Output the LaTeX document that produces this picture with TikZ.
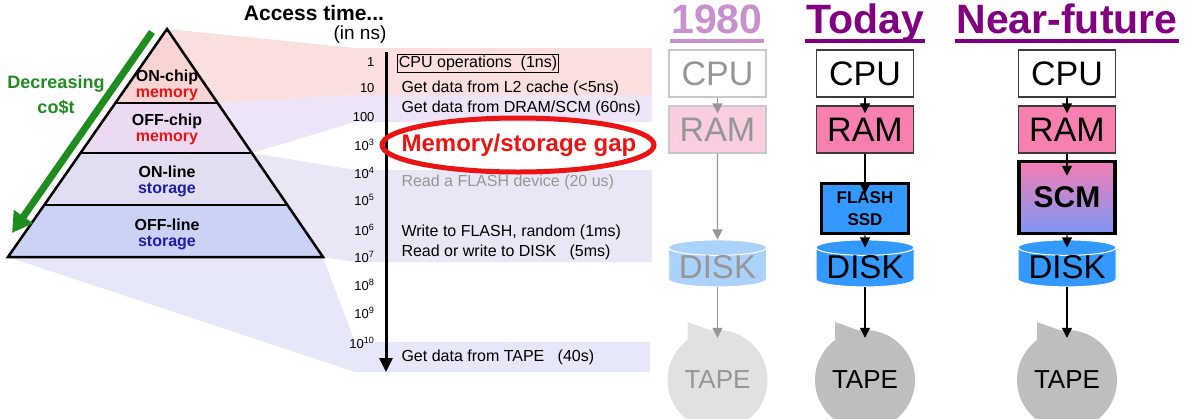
\documentclass[tikz,border=0pt]{standalone}
\usepackage{fontspec}
\setmainfont{Liberation Sans}
\usetikzlibrary{arrows.meta,shapes.geometric,calc}

\definecolor{pinkband}{RGB}{251,222,222}
\definecolor{lavband}{RGB}{238,228,248}
\definecolor{onband}{RGB}{233,230,246}
\definecolor{offband}{RGB}{230,232,250}
\definecolor{secone}{RGB}{248,212,212}
\definecolor{sectwo}{RGB}{236,218,242}
\definecolor{secthree}{RGB}{224,222,240}
\definecolor{secfour}{RGB}{202,210,245}
\definecolor{memred}{RGB}{235,20,20}
\definecolor{storblue}{RGB}{30,30,170}
\definecolor{costgreen}{RGB}{30,140,30}
\definecolor{flashgray}{RGB}{150,150,150}
\definecolor{oldpurple}{RGB}{200,145,205}
\definecolor{newpurple}{RGB}{128,0,128}
\definecolor{oldgray}{RGB}{150,150,150}
\definecolor{lightline}{RGB}{200,200,200}
\definecolor{darkline}{RGB}{60,60,60}
\definecolor{oldram}{RGB}{250,205,225}
\definecolor{rampink}{RGB}{248,128,176}
\definecolor{olddisk}{RGB}{170,210,250}
\definecolor{diskblue}{RGB}{51,153,255}
\definecolor{oldtape}{RGB}{225,225,225}
\definecolor{tapegray}{RGB}{190,190,190}
\definecolor{scmpink}{RGB}{245,125,180}
\definecolor{scmblue}{RGB}{125,150,245}

\newcommand{\fsz}[2]{\fontsize{#1}{#2}\selectfont}

\begin{document}
\begin{tikzpicture}[x=1pt, y=-1pt,
	tick/.style={anchor=east, font=\fsz{13}{13}},
	event/.style={anchor=west, font=\fsz{16}{16}},
	lvl/.style={font=\bfseries\fsz{16}{16}, align=center},
	title/.style={anchor=base, inner sep=1pt, font=\bfseries\fsz{41}{41}},
	unit/.style={rectangle, minimum width=97pt, minimum height=47pt, inner sep=0pt, font=\fsz{34}{34}},
	disk/.style={cylinder, shape border rotate=90, aspect=0.2, minimum width=98pt, minimum height=44pt, inner sep=0pt, draw=white, line width=1pt, font=\fsz{33}{33}},
	tape/.style={circle, minimum size=100pt, inner sep=0pt, font=\fsz{26}{26}},
	link/.style={line width=1.3pt, -{Triangle[width=10pt,length=10pt]}, shorten >=-8pt}]
	\useasboundingbox (0,0) rectangle (1189,418);
	\clip (0,0) rectangle (1189,418);

	% pyramid corners
	\coordinate (apex) at (167,29);
	\coordinate (bl) at (8,257);
	\coordinate (br) at (323,257);
	\coordinate (l1) at ($(apex)!0.3246!(bl)$);
	\coordinate (r1) at ($(apex)!0.3246!(br)$);
	\coordinate (l2) at ($(apex)!0.5439!(bl)$);
	\coordinate (r2) at ($(apex)!0.5439!(br)$);
	\coordinate (l3) at ($(apex)!0.7719!(bl)$);
	\coordinate (r3) at ($(apex)!0.7719!(br)$);

	% bands
	\fill[pinkband] (apex) -- (355,48) -- (652,48) -- (652,95) -- (355,95) -- (r1) -- cycle;
	\fill[lavband] (r1) -- (355,95) -- (652,95) -- (652,122) -- (355,122) -- (r2) -- cycle;
	\fill[onband] (r2) -- (355,170) -- (652,170) -- (652,262) -- (355,262) -- (br) -- cycle;
	\fill[offband] (bl) -- (br) -- (355,342) -- (650,342) -- (650,372) -- (355,372) -- cycle;

	\fill[secone] (apex) -- (r1) -- (l1) -- cycle;
	\fill[sectwo] (l1) -- (r1) -- (r2) -- (l2) -- cycle;
	\fill[secthree] (l2) -- (r2) -- (r3) -- (l3) -- cycle;
	\fill[secfour] (l3) -- (r3) -- (br) -- (bl) -- cycle;
	\draw[line width=2.5pt] (apex) -- (br) -- (bl) -- cycle;
	\draw[line width=2.5pt] (l1) -- (r1) (l2) -- (r2) (l3) -- (r3);

	\node[lvl] (onchip) at (167,85) {ON-chip\\\textcolor{memred}{memory}};
	\node[lvl] (offchip) at (167,129) {OFF-chip\\\textcolor{memred}{memory}};
	\node[lvl] (online) at (167,181) {ON-line\\\textcolor{storblue}{storage}};
	\node[lvl] (offline) at (167,234) {OFF-line\\\textcolor{storblue}{storage}};

	\coordinate (cs) at (152,32);
	\coordinate (ce) at (12,233);
	\draw[costgreen, line width=7pt, -{Triangle[width=22pt,length=20pt]}] (cs) -- (ce);
	\node[align=center, text=costgreen, font=\bfseries\fsz{18}{25}] (cost) at (56,95) {Decreasing\\co\$t};

	% time axis
	\node[font=\bfseries\fsz{21}{21}] (acc) at (314,13) {Access time...};
	\node[font=\fsz{19}{19}] (inns) at (360,35) {(in ns)};
	\foreach \v/\y in {1/62, 10/88, 100/117, 10\textsuperscript{3}/145, 10\textsuperscript{4}/173, 10\textsuperscript{5}/200, 10\textsuperscript{6}/230, 10\textsuperscript{7}/257, 10\textsuperscript{8}/285, 10\textsuperscript{9}/313, 10\textsuperscript{10}/343}
		\node[tick] (tick\y) at (378,\y) {\v};
	\coordinate (axtop) at (386,52);
	\coordinate (axend) at (386,372);
	\draw[line width=3pt, -{Triangle[width=13pt,length=14pt]}] (axtop) -- (axend);

	\node[event, draw, line width=0.8pt, inner sep=1.5pt] (cpuop) at (397,63) {CPU operations\ \ (1ns)};
	\node[event] (lcache) at (398,88) {Get data from L2 cache (<5ns)};
	\node[event] (dram) at (398,108) {Get data from DRAM/SCM (60ns)};
	\node[ellipse, draw=memred, line width=5pt, minimum width=272pt, minimum height=54pt, inner sep=0pt] (gapring) at (518,145) {};
	\node[text=memred, font=\bfseries\fsz{24}{24}] (gap) at (519,145) {Memory/storage gap};
	\node[event, text=flashgray] (rflash) at (398,182) {Read a FLASH device (20 us)};
	\node[event] (wflash) at (398,232) {Write to FLASH, random (1ms)};
	\node[event] (rwdisk) at (398,252) {Read or write to DISK\ \ \ (5ms)};
	\node[event] (gtape) at (398,357) {Get data from TAPE\ \ \ (40s)};

	% 1980
	\node[title, text=oldpurple] (y1980) at (717,33) {1980};
	\draw[oldpurple, line width=3.5pt] ($(y1980.base west)+(0,8)$) -- ($(y1980.base east)+(0,8)$);
	\node[unit, draw=lightline, line width=1.2pt, text=oldgray] (cpua) at (717.5,73.5) {CPU};
	\node[unit, fill=oldram, draw=lightline, line width=1.2pt, text=oldgray] (rama) at (717.5,129.5) {RAM};
	\node[disk, fill=olddisk, text=oldgray] (diska) at (717.5,267.5) {DISK};
	\node[tape, fill=oldtape, text=oldgray] (tapea) at (717.5,380) {TAPE};
	\fill[oldtape] ($(tapea)+(-30,-58)$) -- ($(tapea)+(-30,-36)$) -- ($(tapea)+(-2,-48)$) -- cycle;
	\draw[link, oldgray] (cpua) -- (rama);
	\draw[link, oldgray, shorten >=0pt] (rama) -- (diska);
	\draw[link, oldgray] (diska) -- (tapea);

	% today
	\node[title, text=newpurple] (today) at (865,33) {Today};
	\draw[newpurple, line width=3.5pt] ($(today.base west)+(0,8)$) -- ($(today.base east)+(0,8)$);
	\node[unit, draw=darkline, line width=1.5pt] (cpub) at (865,73.5) {CPU};
	\node[unit, fill=rampink, draw=darkline, line width=1.5pt] (ramb) at (865,129.5) {RAM};
	\node[draw, line width=3.5pt, fill=diskblue, minimum width=87pt, minimum height=50pt, inner sep=0pt, align=center, font=\bfseries\fsz{17}{22}] (flashb) at (865,208.5) {FLASH\\SSD};
	\node[disk, fill=diskblue] (diskb) at (865,267.5) {DISK};
	\node[tape, fill=tapegray] (tapeb) at (865,380) {TAPE};
	\fill[tapegray] ($(tapeb)+(-30,-58)$) -- ($(tapeb)+(-30,-36)$) -- ($(tapeb)+(-2,-48)$) -- cycle;
	\draw[link] (cpub) -- (ramb);
	\draw[link, shorten >=-12pt] (ramb) -- (flashb);
	\draw[link] (flashb) -- (diskb);
	\draw[link] (diskb) -- (tapeb);

	% near future
	\node[title, text=newpurple] (future) at (1067,33) {Near-future};
	\draw[newpurple, line width=3.5pt] ($(future.base west)+(0,8)$) -- ($(future.base east)+(0,8)$);
	\node[unit, draw=darkline, line width=1.5pt] (cpuc) at (1067,73.5) {CPU};
	\node[unit, fill=rampink, draw=darkline, line width=1.5pt] (ramc) at (1067,129.5) {RAM};
	\node[draw, line width=3.5pt, top color=scmpink, bottom color=scmblue, minimum width=96pt, minimum height=72pt, inner sep=0pt, font=\bfseries\fsz{30}{30}] (scmc) at (1067,197.5) {SCM};
	\node[disk, fill=diskblue] (diskc) at (1067,267.5) {DISK};
	\node[tape, fill=tapegray] (tapec) at (1067,380) {TAPE};
	\fill[tapegray] ($(tapec)+(-30,-58)$) -- ($(tapec)+(-30,-36)$) -- ($(tapec)+(-2,-48)$) -- cycle;
	\draw[link] (cpuc) -- (ramc);
	\draw[link, shorten >=-16pt] (ramc) -- (scmc);
	\draw[link] (scmc) -- (diskc);
	\draw[link] (diskc) -- (tapec);
\end{tikzpicture}
\end{document}
